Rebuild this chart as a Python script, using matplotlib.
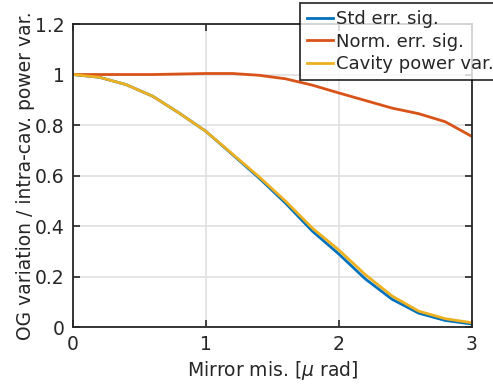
import matplotlib
matplotlib.use("Agg")
import matplotlib.pyplot as plt

# mirror misalignment [urad]
mis = [0.0, 0.2, 0.4, 0.6, 0.8, 1.0, 1.2, 1.4, 1.6, 1.8, 2.0, 2.2, 2.4, 2.6, 2.8, 3.0]

std_err = [1.0, 0.989, 0.960, 0.914, 0.847, 0.775, 0.683, 0.590, 0.490, 0.380,
           0.289, 0.190, 0.110, 0.055, 0.026, 0.012]
norm_err = [1.0, 1.0, 1.0, 1.0, 1.002, 1.004, 1.004, 0.997, 0.983, 0.958,
            0.927, 0.897, 0.867, 0.845, 0.813, 0.755]
cav_power = [1.0, 0.989, 0.960, 0.914, 0.847, 0.775, 0.685, 0.595, 0.498, 0.392,
             0.305, 0.207, 0.123, 0.063, 0.033, 0.017]

labels = ["Std err. sig.", "Norm. err. sig.", "Cavity power var."]
colors = ["#0072BD", "#D95319", "#EDB120"]

xticks = [0, 1, 2, 3]
yticks = [0, 0.2, 0.4, 0.6, 0.8, 1.0, 1.2]
ytick_labels = ["0", "0.2", "0.4", "0.6", "0.8", "1", "1.2"]

txt = "#262626"
fs = 13.5
plt.rcParams["font.family"] = "DejaVu Sans"
plt.rcParams["mathtext.fontset"] = "dejavusans"

fig = plt.figure(figsize=(4.93, 3.85), dpi=100)
ax = fig.add_axes([0.148, 0.1506, 0.809, 0.787])

for ys, lab, c in zip([std_err, norm_err, cav_power], labels, colors):
    ax.plot(mis, ys, color=c, lw=2.0, label=lab)

ax.set_xlim(0, 3)
ax.set_ylim(0, 1.2)
ax.set_xticks(xticks)
ax.set_yticks(yticks)
ax.set_yticklabels(ytick_labels)
ax.grid(True, color="#e0e0e0", lw=1.2)
ax.set_axisbelow(True)
ax.tick_params(direction="in", length=5, width=1.2, colors=txt, labelsize=fs,
               top=True, right=True, pad=6)
for s in ax.spines.values():
    s.set_color(txt)
    s.set_linewidth(1.3)

ax.set_xlabel("Mirror mis. [$\\mu$ rad]", color=txt, fontsize=fs, labelpad=3)
ax.set_ylabel("OG variation / intra-cav. power var.", color=txt, fontsize=fs, labelpad=0)

leg = fig.legend(loc="upper left", bbox_to_anchor=(300 / 493, 1 - 3 / 385),
                 bbox_transform=fig.transFigure, fontsize=13, frameon=True,
                 fancybox=False, handlelength=1.45, handletextpad=0.17,
                 labelspacing=0.25, borderpad=0.4, borderaxespad=0)
leg.get_frame().set_edgecolor("#000000")
leg.get_frame().set_linewidth(1.3)
for t in leg.get_texts():
    t.set_color(txt)

fig.savefig("out.png", dpi=100)
